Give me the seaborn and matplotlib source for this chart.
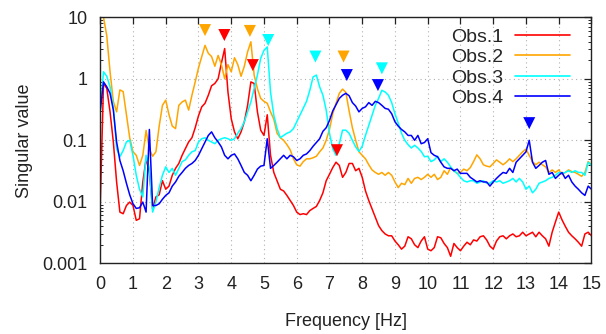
import numpy as np
import pandas as pd
import matplotlib
matplotlib.use("Agg")
import matplotlib.pyplot as plt
import matplotlib.ticker as mticker
import seaborn as sns

# ---------------- data ----------------
freq = np.round(np.arange(0, 151) * 0.1, 1)

obs1 = [0.0087, 0.84, 0.7, 0.29, 0.094, 0.021, 0.0068, 0.0064, 0.0087, 0.0099,
        0.0087, 0.005, 0.0053, 0.021, 0.05, 0.03, 0.0077, 0.012, 0.013, 0.022,
        0.016, 0.018, 0.027, 0.035, 0.042, 0.057, 0.073, 0.094, 0.11, 0.16,
        0.25, 0.35, 0.4, 0.54, 0.77, 0.84, 1.0, 1.8, 3.1, 0.61,
        0.225, 0.137, 0.106, 0.137, 0.2, 0.37, 0.89, 0.84, 0.29, 0.146,
        0.12, 0.26, 0.057, 0.03, 0.022, 0.016, 0.015, 0.0127, 0.0105, 0.0087,
        0.0068, 0.0062, 0.0064, 0.0062, 0.0072, 0.0078, 0.0084, 0.0105, 0.014, 0.022,
        0.028, 0.036, 0.044, 0.039, 0.025, 0.03, 0.042, 0.042, 0.032, 0.035,
        0.025, 0.015, 0.0105, 0.0077, 0.0057, 0.0041, 0.0034, 0.003, 0.0028, 0.0028,
        0.0023, 0.002, 0.0017, 0.0019, 0.0027, 0.0025, 0.002, 0.0018, 0.0023, 0.0027,
        0.0017, 0.0016, 0.0018, 0.0027, 0.0026, 0.0021, 0.0018, 0.0013, 0.0021, 0.0018,
        0.0016, 0.0019, 0.0022, 0.002, 0.0024, 0.0023, 0.0027, 0.0028, 0.0024, 0.0019,
        0.0017, 0.0023, 0.0027, 0.0028, 0.0025, 0.0028, 0.003, 0.0027, 0.0028, 0.0032,
        0.0028, 0.003, 0.0032, 0.0027, 0.0032, 0.0028, 0.0025, 0.0019, 0.0032, 0.0047,
        0.0068, 0.0051, 0.004, 0.0032, 0.0028, 0.0025, 0.0022, 0.0019, 0.003, 0.0032,
        0.0028]

obs2 = [12, 10, 5, 1.3, 0.43, 0.29, 0.66, 0.62, 0.26, 0.11,
        0.065, 0.057, 0.039, 0.057, 0.145, 0.072, 0.055, 0.065, 0.17, 0.37,
        0.45, 0.26, 0.17, 0.155, 0.37, 0.42, 0.45, 0.31, 0.54, 0.89,
        1.5, 2.3, 3.5, 2.6, 2.3, 1.6, 2.4, 1.7, 1.0, 1.7,
        1.3, 2.2, 1.7, 1.1, 1.6, 2.75, 4.0, 1.15, 0.69, 0.48,
        0.43, 0.4, 0.29, 0.22, 0.13, 0.11, 0.1, 0.085, 0.07, 0.05,
        0.04, 0.038, 0.045, 0.05, 0.05, 0.052, 0.055, 0.065, 0.075, 0.1,
        0.15, 0.27, 0.4, 0.58, 0.68, 0.6, 0.3, 0.16, 0.1, 0.065,
        0.057, 0.05, 0.04, 0.033, 0.03, 0.028, 0.03, 0.027, 0.03, 0.027,
        0.021, 0.017, 0.02, 0.019, 0.024, 0.02, 0.024, 0.025, 0.023, 0.025,
        0.028, 0.025, 0.028, 0.023, 0.025, 0.032, 0.028, 0.036, 0.032, 0.029,
        0.03, 0.034, 0.032, 0.036, 0.045, 0.058, 0.05, 0.04, 0.038, 0.037,
        0.042, 0.048, 0.044, 0.04, 0.044, 0.05, 0.045, 0.05, 0.057, 0.065,
        0.072, 0.057, 0.045, 0.04, 0.044, 0.04, 0.037, 0.03, 0.033, 0.03,
        0.033, 0.028, 0.03, 0.033, 0.031, 0.03, 0.028, 0.026, 0.03, 0.045,
        0.04]

obs3 = [0.3, 1.3, 1.1, 0.74, 0.35, 0.073, 0.054, 0.068, 0.094, 0.1,
        0.057, 0.027, 0.016, 0.012, 0.057, 0.035, 0.0068, 0.0099, 0.017, 0.027,
        0.037, 0.03, 0.035, 0.027, 0.035, 0.045, 0.048, 0.057, 0.065, 0.068,
        0.094, 0.106, 0.11, 0.1, 0.094, 0.088, 0.1, 0.106, 0.11, 0.106,
        0.1, 0.106, 0.13, 0.155, 0.2, 0.29, 0.42, 0.69, 1.15, 2.15,
        2.9, 3.3, 0.61, 0.256, 0.155, 0.11, 0.12, 0.13, 0.137, 0.155,
        0.2, 0.256, 0.33, 0.43, 0.65, 1.07, 1.15, 0.74, 0.54, 0.31,
        0.13, 0.073, 0.057, 0.088, 0.146, 0.146, 0.13, 0.1, 0.078, 0.066,
        0.08, 0.12, 0.175, 0.256, 0.37, 0.48, 0.65, 0.61, 0.54, 0.41,
        0.27, 0.19, 0.13, 0.1, 0.085, 0.075, 0.083, 0.075, 0.066, 0.054,
        0.055, 0.045, 0.048, 0.055, 0.045, 0.05, 0.044, 0.037, 0.032, 0.029,
        0.025, 0.022, 0.021, 0.022, 0.022, 0.02, 0.021, 0.022, 0.02, 0.02,
        0.022, 0.021, 0.022, 0.02, 0.021, 0.022, 0.024, 0.021, 0.024, 0.021,
        0.016, 0.018, 0.014, 0.016, 0.02, 0.021, 0.022, 0.024, 0.025, 0.027,
        0.03, 0.029, 0.03, 0.032, 0.03, 0.032, 0.03, 0.03, 0.027, 0.044,
        0.039]

obs4 = [0.3, 0.89, 0.74, 0.58, 0.31, 0.094, 0.047, 0.032, 0.02, 0.013,
        0.0093, 0.0078, 0.008, 0.0099, 0.0068, 0.15, 0.0087, 0.0087, 0.0093, 0.011,
        0.0127, 0.014, 0.018, 0.021, 0.026, 0.03, 0.035, 0.039, 0.042, 0.047,
        0.057, 0.073, 0.094, 0.12, 0.137, 0.11, 0.094, 0.078, 0.057, 0.05,
        0.057, 0.06, 0.05, 0.039, 0.03, 0.027, 0.022, 0.027, 0.034, 0.038,
        0.039, 0.106, 0.035, 0.039, 0.044, 0.05, 0.057, 0.05, 0.057, 0.054,
        0.047, 0.05, 0.057, 0.06, 0.068, 0.08, 0.092, 0.106, 0.14, 0.16,
        0.21, 0.3, 0.38, 0.48, 0.54, 0.58, 0.53, 0.41, 0.36, 0.29,
        0.33, 0.35, 0.41, 0.37, 0.43, 0.41, 0.37, 0.33, 0.32, 0.27,
        0.2, 0.17, 0.15, 0.137, 0.12, 0.12, 0.1, 0.12, 0.088, 0.092,
        0.106, 0.063, 0.057, 0.054, 0.044, 0.037, 0.035, 0.035, 0.032, 0.034,
        0.029, 0.029, 0.029, 0.025, 0.023, 0.021, 0.022, 0.021, 0.021, 0.018,
        0.021, 0.024, 0.027, 0.03, 0.029, 0.035, 0.03, 0.044, 0.05, 0.057,
        0.065, 0.1, 0.044, 0.035, 0.039, 0.044, 0.047, 0.028, 0.03, 0.024,
        0.027, 0.03, 0.024, 0.027, 0.021, 0.018, 0.016, 0.014, 0.0127, 0.018,
        0.016]

series_names = ["Obs.1", "Obs.2", "Obs.3", "Obs.4"]
colors = ["#ff0000", "#ffa500", "#00ffff", "#0000ff"]

# peak markers (frequency, height) per observation
peak_obs = ["Obs.2", "Obs.2", "Obs.2", "Obs.1", "Obs.1", "Obs.1",
            "Obs.3", "Obs.3", "Obs.3", "Obs.4", "Obs.4", "Obs.4"]
peak_freq = [3.2, 4.57, 7.43, 3.79, 4.66, 7.23, 5.13, 6.57, 8.6, 7.53, 8.48, 13.1]
peak_val = [6.2, 6.0, 2.3, 5.15, 1.67, 0.069, 4.27, 2.3, 1.48, 1.15, 0.79, 0.19]

ytick_vals = [0.001, 0.01, 0.1, 1, 10]
ytick_labels = ["0.001", "0.01", "0.1", "1", "10"]
xtick_vals = list(range(0, 16))

# ---------------- build long-form table ----------------
df = pd.concat([
    pd.DataFrame({"Frequency": freq, "Value": vals, "Obs": name})
    for name, vals in zip(series_names, [obs1, obs2, obs3, obs4])
], ignore_index=True)
peaks = pd.DataFrame({"Frequency": peak_freq, "Value": peak_val, "Obs": peak_obs})

# ---------------- plot ----------------
sns.set_theme(style="white")
plt.rcParams["font.family"] = ["Liberation Sans", "DejaVu Sans"]

fig = plt.figure(figsize=(6.06, 3.34), dpi=100)
ax = fig.add_axes([0.1654, 0.2117, 0.8106, 0.7365])

palette = dict(zip(series_names, colors))
sns.lineplot(data=df, x="Frequency", y="Value", hue="Obs", palette=palette,
             hue_order=series_names, linewidth=1.1, ax=ax, legend=True,
             estimator=None, sort=False)
sns.scatterplot(data=peaks, x="Frequency", y="Value", hue="Obs", palette=palette,
                marker="v", s=75, linewidth=0, ax=ax, legend=False, zorder=5)

ax.set_yscale("log")
ax.set_xlim(0, 15)
ax.set_ylim(0.001, 10)
ax.set_xticks(xtick_vals)
ax.set_yticks(ytick_vals)
ax.set_yticklabels(ytick_labels)
ax.yaxis.set_minor_locator(mticker.LogLocator(base=10, subs=np.arange(2, 10)))
ax.yaxis.set_minor_formatter(mticker.NullFormatter())

ax.tick_params(axis="both", which="major", direction="in", length=5, width=0.9,
               top=True, right=True, labelsize=13, pad=9, colors="#222222")
ax.tick_params(axis="y", which="minor", direction="in", length=2.5, width=0.7,
               left=True, right=True)
ax.tick_params(axis="x", which="minor", bottom=False, top=False)

ax.grid(True, which="major", color="#b0b0b0", linestyle=(0, (1, 3)), linewidth=0.8)
for sp in ax.spines.values():
    sp.set_color("#222222")
    sp.set_linewidth(1.0)

ax.set_xlabel("Frequency [Hz]", fontsize=13, color="#222222")
ax.set_ylabel("Singular value", fontsize=13, color="#222222")
ax.xaxis.set_label_coords(0.5, -0.202)
ax.yaxis.set_label_coords(-0.1365, 0.5)

leg = ax.legend(loc="upper right", bbox_to_anchor=(0.956, 0.9565),
                frameon=False, markerfirst=False, fontsize=14,
                handlelength=2.83, labelspacing=0.15, borderpad=0,
                borderaxespad=0, handletextpad=0.57)
for line in leg.get_lines():
    line.set_linewidth(1.2)

fig.savefig("out.png", dpi=100)
